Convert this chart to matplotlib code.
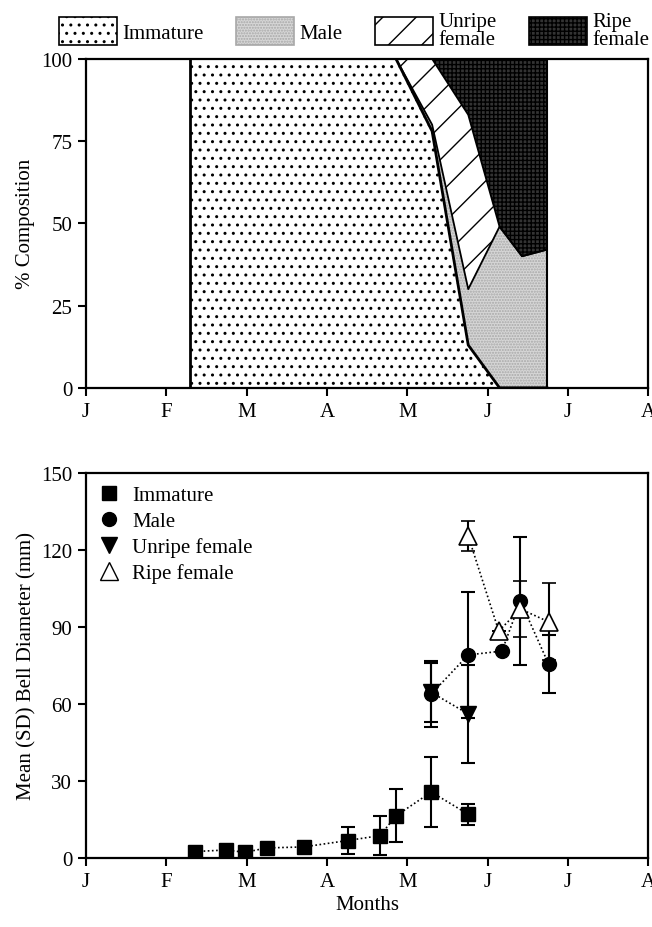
import numpy as np
import matplotlib
matplotlib.use('Agg')
import matplotlib.pyplot as plt
from matplotlib.patches import Patch
from matplotlib.lines import Line2D

plt.rcParams['font.family'] = ['Liberation Serif', 'DejaVu Serif']
plt.rcParams['font.size'] = 15
plt.rcParams['hatch.linewidth'] = 1.0

# Месяцы (J=0 ... A=7)
month_labels = ['J', 'F', 'M', 'A', 'M', 'J', 'J', 'A']

# Верхний график: % состава
comp_months = [1.30, 3.86, 4.31, 4.76, 5.15, 5.43, 5.74]
comp_immature = [100, 100, 78, 13, 0, 0, 0]
comp_male = [0, 0, 2, 17, 49, 40, 42]
comp_unripe = [0, 0, 20, 53, 0, 0, 0]
comp_ripe = [0, 0, 0, 17, 51, 60, 58]

# Нижний график: средний диаметр колокола (SD)
imm_months = [1.36, 1.74, 1.98, 2.25, 2.71, 3.26, 3.66, 3.86, 4.30, 4.76]
imm_mean = [2.5, 3.1, 2.2, 3.9, 4.3, 6.8, 8.7, 16.4, 25.7, 17.0]
imm_sd = [0, 0, 0, 0, 0, 5.2, 7.5, 10.3, 13.8, 4.0]

male_months = [4.30, 4.76, 5.18, 5.41, 5.76]
male_mean = [63.9, 79.1, 80.6, 100.1, 75.6]
male_sd = [13.0, 24.5, 0, 25.0, 11.3]

unripe_months = [4.30, 4.76]
unripe_mean = [64.5, 56.1]
unripe_sd = [11.5, 19.0]

ripe_months = [4.76, 5.14, 5.41, 5.76]
ripe_mean = [125.4, 88.4, 97.0, 92.0]
ripe_sd = [6.0, 0, 11.0, 15.0]

fig = plt.figure(figsize=(6.52, 9.28), dpi=100)
ax1 = fig.add_axes([0.132, 0.581, 0.862, 0.3545])
ax2 = fig.add_axes([0.132, 0.0744, 0.862, 0.4149])

# --- Верхний график ---
x = np.array(comp_months)
b0 = np.zeros(len(x))
b1 = b0 + comp_immature
b2 = b1 + comp_male
b3 = b2 + comp_unripe
b4 = b3 + comp_ripe

styles = [
    dict(facecolor='white', hatch='..', edgecolor='black'),
    dict(facecolor='#d6d6d6', hatch='......', edgecolor='#a8a8a8'),
    dict(facecolor='white', hatch='/', edgecolor='black'),
    dict(facecolor='#333333', hatch='++++', edgecolor='black'),
]
for (lo, hi), st in zip([(b0, b1), (b1, b2), (b2, b3), (b3, b4)], styles):
    ax1.fill_between(x, lo, hi, linewidth=0, **st)

ax1.plot(x[1:], b1[1:], color='black', lw=2.0)
ax1.plot(x[1:], b2[1:], color='black', lw=1.3)
ax1.plot(x[1:], b3[1:], color='black', lw=1.3)
ax1.plot([x[0], x[0]], [0, 100], color='black', lw=2.0)
ax1.plot([x[-1], x[-1]], [0, 100], color='black', lw=1.5)

ax1.set_xlim(0, 7)
ax1.set_ylim(0, 100)
ax1.set_yticks([0, 25, 50, 75, 100])
ax1.set_ylabel('% Composition', labelpad=4)

# --- Нижний график ---
ls = (0, (1, 1.5))
ax2.errorbar(imm_months, imm_mean, yerr=imm_sd, fmt='s', ms=10, color='black',
             linestyle=ls, lw=1.2, elinewidth=1.5, capsize=5, capthick=1.5)
ax2.errorbar(male_months, male_mean, yerr=male_sd, fmt='o', ms=10, color='black',
             linestyle=ls, lw=1.2, elinewidth=1.5, capsize=5, capthick=1.5)
ax2.errorbar(unripe_months, unripe_mean, yerr=unripe_sd, fmt='v', ms=11, color='black',
             linestyle=ls, lw=1.2, elinewidth=1.5, capsize=5, capthick=1.5)
ax2.errorbar(ripe_months, ripe_mean, yerr=ripe_sd, fmt='^', ms=13, color='black',
             mfc='white', mew=1.2, linestyle=ls, lw=1.2, elinewidth=1.5,
             capsize=5, capthick=1.5)

ax2.set_xlim(0, 7)
ax2.set_ylim(0, 150)
ax2.set_yticks([0, 30, 60, 90, 120, 150])
ax2.set_ylabel('Mean (SD) Bell Diameter (mm)', labelpad=3)
ax2.set_xlabel('Months', labelpad=3)

handles = [
    Line2D([], [], marker='s', ls='none', color='black', ms=10),
    Line2D([], [], marker='o', ls='none', color='black', ms=10),
    Line2D([], [], marker='v', ls='none', color='black', ms=11),
    Line2D([], [], marker='^', ls='none', color='black', mfc='white', ms=13, mew=1.0),
]
ax2.legend(handles, ['Immature', 'Male', 'Unripe female', 'Ripe female'],
           loc='upper left', frameon=False, handlelength=1.0, handletextpad=0.6,
           labelspacing=0.3, borderaxespad=0.2, fontsize=15)

for ax in (ax1, ax2):
    ax.set_xticks(range(8))
    ax.set_xticklabels(month_labels)
    ax.tick_params(direction='out', length=6, width=1.5, labelsize=15, pad=4)
    for s in ax.spines.values():
        s.set_linewidth(1.6)

# Легенда сверху
leg_handles = [Patch(label=lab, **st) for lab, st in
               zip(['Immature', 'Male', 'Unripe\nfemale', 'Ripe\nfemale'], styles)]
for h in leg_handles:
    h.set_linewidth(1.2)
leg = fig.legend(handles=leg_handles, loc='upper center', bbox_to_anchor=(0.543, 1.006),
                 ncol=4, frameon=False, handlelength=2.8, handleheight=1.75,
                 handletextpad=0.25, columnspacing=1.55, prop={'size': 15})
for t in leg.get_texts():
    t.set_linespacing(0.95)

fig.savefig('out.png', dpi=100)
